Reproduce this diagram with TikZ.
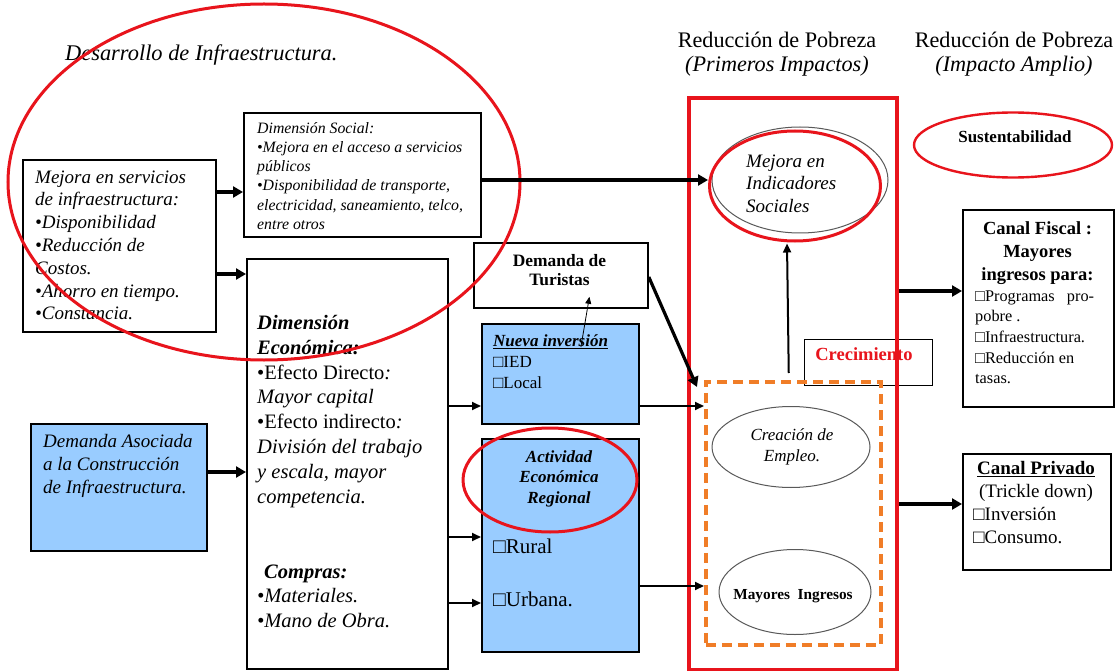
\documentclass[tikz,border=0pt]{standalone}
\usepackage{fontspec}
\setmainfont{Liberation Serif}
\usetikzlibrary{shapes.geometric,arrows.meta,calc}
\definecolor{boxblue}{RGB}{153,204,255}
\definecolor{myred}{RGB}{232,20,28}
\definecolor{myorange}{RGB}{240,125,40}
\newcommand\fs[2]{\fontsize{#1}{#2}\selectfont}
\begin{document}
\begin{tikzpicture}[x=1pt,y=-1pt,
  box/.style={draw, line width=1.8pt, anchor=north west, inner sep=0},
  bluebox/.style={box, fill=boxblue},
  thinbox/.style={draw, line width=1.1pt, anchor=north west, inner sep=0},
  txt/.style={anchor=north west, inner sep=0, align=left},
  ctxt/.style={anchor=north, inner sep=0, align=center},
  tk/.style={line width=3.2pt, -{Triangle[length=10pt,width=11pt]}},
  md/.style={line width=2pt, -{Triangle[length=9pt,width=8pt]}},
  tn/.style={line width=0.8pt, -{Triangle[length=7pt,width=6pt]}},
  ell/.style={ellipse, inner sep=0},
  redell/.style={ell, draw=myred, line width=3pt},
  grayell/.style={ell, draw=black!65, line width=1pt}
]
\useasboundingbox[fill=white] (0,0) rectangle (1119,671);

% headings
\node[anchor=base west, inner sep=0, font={\fs{22.4}{26}\itshape}] (title) at (65,61) {Desarrollo de Infraestructura.};
\node[ctxt, font={\fs{22.2}{24.5}}] (h1) at (777,29.9) {\strut Reducción de Pobreza\\\textit{(Primeros Impactos)}};
\node[ctxt, font={\fs{22.2}{24.5}}] (h2) at (1014,29.9) {\strut Reducción de Pobreza\\\textit{(Impacto Amplio)}};

% left column
\node[box, minimum width=193, minimum height=172] (mejora) at (22,159) {};
\node[txt, font={\fs{19}{22.8}\itshape}] (mejoraT) at (35,167) {\strut Mejora en servicios\\de infraestructura:\\•Disponibilidad\\•Reducción de\\Costos.\\•Ahorro en tiempo.\\•Constancia.};

\node[bluebox, minimum width=176, minimum height=127] (demasoc) at (30,423) {};
\node[txt, font={\fs{19}{23}\itshape}] (demasocT) at (43,430.9) {\strut Demanda Asociada\\a la Construcción\\de Infraestructura.};

% second column
\node[box, minimum width=237, minimum height=124] (dimsoc) at (243,112) {};
\node[txt, font={\fs{15.8}{19.2}\itshape}] (dimsocT) at (257,119.6) {\strut Dimensión Social:\\•Mejora en el acceso a servicios\\públicos\\•Disponibilidad de transporte,\\electricidad, saneamiento, telco,\\entre otros};

\node[box, minimum width=201, minimum height=410] (dimecon) at (246,258) {};
\node[txt, font={\fs{20.5}{24.9}}] (dimeconT) at (257,311.6) {\strut\textbf{\textit{Dimensión}}\\\textbf{\textit{Económica:}}\\•Efecto Directo\textit{:}\\\textit{Mayor capital}\\•Efecto indirecto\textit{:}\\\textit{División del trabajo}\\\textit{y escala, mayor}\\\textit{competencia.}};
\node[txt, font={\fs{20.5}{24.5}}] (comprasT) at (257,560.9) {\strut\hspace*{7pt}\textbf{\textit{Compras:}}\\\textit{•Materiales.}\\\textit{•Mano de Obra.}};

% third column
\node[box, minimum width=174, minimum height=65] (turistas) at (473,242) {};
\node[ctxt, font={\fs{17.4}{19.5}\bfseries}] (turistasT) at (559.5,252.3) {\strut Demanda de\\Turistas};

\node[bluebox, minimum width=157, minimum height=100] (nueva) at (481,323) {};
\node[txt, font={\fs{17}{21}}] (nuevaT) at (493,331.3) {\strut\textbf{\textit{\underline{Nueva inversión}}}\\□IED\\□Local};

\node[bluebox, minimum width=157, minimum height=213] (activ) at (481,438) {};
\node[ctxt, font={\fs{17}{20.5}\bfseries\itshape}] (activT) at (559,447.6) {\strut Actividad\\Económica\\Regional};
\node[txt, font={\fs{21}{53}}] (ruralT) at (493,515.9) {\strut □Rural\\□Urbana.};

% primeros impactos
\node[grayell, minimum width=176, minimum height=106] (indicG) at (800,180) {};
\node[redell, minimum width=171, minimum height=110] (indic) at (795,186) {};
\node[txt, font={\fs{19}{22.5}\itshape}] (indicT) at (746,151.3) {\strut Mejora en\\Indicadores\\Sociales};

\node[thinbox, minimum width=128, minimum height=46] (crecT) at (804,339) {};
\node[anchor=base, inner sep=0, font={\fs{18.5}{20}\bfseries}, text=myred] (crecL) at (864,360) {Crecimiento};

\node[grayell, minimum width=158, minimum height=81] (empleo) at (791,447) {};
\node[ctxt, font={\fs{17}{21}\itshape}] (empleoT) at (792,425.3) {\strut Creación de\\Empleo.};
\node[grayell, minimum width=152, minimum height=85] (ingresos) at (795,592) {};
\node[anchor=base, inner sep=0, font={\fs{15.3}{17}\bfseries}] (ingresosT) at (793,599) {Mayores\ \ Ingresos};

\node[draw=myorange, dash pattern=on 10pt off 6pt, line width=3.5pt, anchor=north west, inner sep=0, minimum width=175, minimum height=263] (crec) at (704,380) {};
\node[draw=myred, line width=4pt, anchor=north west, inner sep=0, minimum width=208, minimum height=572] (pi) at (687,96) {};

% right column
\node[redell, line width=2.4pt, minimum width=198, minimum height=65] (sust) at (1013,145) {};
\node[anchor=base, inner sep=0, font={\fs{17}{19}\bfseries}] (sustT) at (1015,143) {Sustentabilidad};

\node[box, minimum width=151, minimum height=197] (fiscal) at (962,209) {};
\node[ctxt, font={\fs{18.5}{23}\bfseries}] (fiscalT) at (1037.5,217.9) {\strut Canal Fiscal :\\Mayores\\ingresos para:};
\node[txt, font={\fs{16.3}{20.7}}] (fiscalL) at (975,286.5) {\strut □Programas\ \ \ pro-\\pobre .\\□Infraestructura.\\□Reducción en\\tasas.};

\node[box, minimum width=148, minimum height=116] (privado) at (962,453) {};
\node[ctxt, font={\fs{19}{23}}] (privadoT) at (1036,457.9) {\strut\textbf{\underline{Canal Privado}}\\(Trickle down)};
\node[txt, font={\fs{19}{23}}] (privadoL) at (973,503.9) {\strut □Inversión\\□Consumo.};

% big red ellipses
\node[redell, minimum width=512, minimum height=356] (infra) at (264,182) {};
\node[redell, minimum width=174, minimum height=104] (activE) at (550,480) {};

% connectors
\draw[tk] (mejora.east |- 0,192) -- (dimsoc.west |- 0,192);
\draw[tk] (mejora.east |- 0,274) -- (dimecon.west |- 0,274);
\draw[tk] (demasoc.east |- 0,472) -- (dimecon.west |- 0,472);
\draw[tk] (dimsoc.east |- 0,180) -- (indic.west |- 0,180);
\draw[md] (dimecon.east |- 0,406) -- (nueva.west |- 0,406);
\draw[md] (dimecon.east |- 0,537) -- (activ.west |- 0,537);
\draw[md] (dimecon.east |- 0,603) -- (activ.west |- 0,603);
\draw[md] (nueva.east |- 0,406) -- (crec.west |- 0,406);
\draw[md] (activ.east |- 0,586) -- (crec.west |- 0,586);
\draw[tn] ($(nueva.north)+(20.5,24)$) -- ($(turistas.south)+(28.5,-12)$);
\draw[tk] (turistas.east |- 0,277) -- ($(crec.north west)+(-7,7)$);
\draw[md] ($(crec.north)+(-4.5,-7)$) -- ($(indic.south)+(-8,1)$);
\draw[tk] (pi.east |- 0,291) -- (fiscal.west |- 0,291);
\draw[tk] (pi.east |- 0,504) -- (privado.west |- 0,504);
\end{tikzpicture}
\end{document}
